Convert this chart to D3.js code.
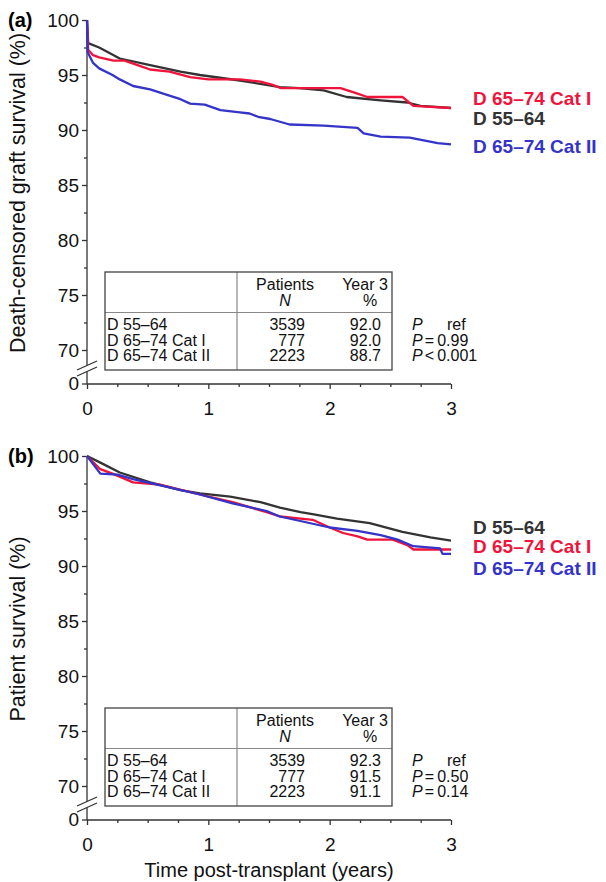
<!DOCTYPE html>
<html>
<head>
<meta charset="utf-8">
<script src="https://cdn.jsdelivr.net/npm/d3@7"></script>
<style>
  body { margin: 0; background: #fff; }
  svg { display: block; font-family: "Liberation Sans", Arial, Helvetica, sans-serif; }
</style>
</head>
<body>
<svg id="chart" width="606" height="882"></svg>
<script>
// groups, in legend/table order
const groups = ["D 55–64", "D 65–74 Cat I", "D 65–74 Cat II"];
const groupColors = ["#333333", "#f0143c", "#3434c8"];
const patientsN = ["3539", "777", "2223"];

// (a) death-censored graft survival, [years, %]
const graft55 = [[0,100],[0.01,97.9],[0.1,97.5],[0.27,96.5],[0.52,95.9],[0.77,95.3],[0.93,95.0],[1.26,94.5],[1.59,93.9],[1.75,93.8],[1.95,93.6],[2.14,93.0],[2.42,92.7],[2.64,92.5],[2.75,92.2],[3,92.0]];
const graftCat1 = [[0,100],[0.01,97.3],[0.05,96.8],[0.1,96.6],[0.22,96.3],[0.31,96.3],[0.44,95.8],[0.52,95.5],[0.68,95.3],[0.85,94.8],[1.0,94.6],[1.26,94.6],[1.43,94.4],[1.53,94.1],[1.6,93.8],[2.09,93.8],[2.23,93.3],[2.31,93.0],[2.6,93.0],[2.69,92.2],[3,92.0]];
const graftCat2 = [[0,100],[0.005,97.1],[0.05,96.1],[0.1,95.6],[0.21,95.0],[0.27,94.6],[0.38,94.0],[0.52,93.7],[0.66,93.2],[0.77,92.8],[0.85,92.4],[0.97,92.3],[1.1,91.8],[1.26,91.6],[1.34,91.5],[1.41,91.2],[1.51,91.0],[1.67,90.5],[1.95,90.4],[2.23,90.2],[2.28,89.7],[2.42,89.4],[2.66,89.3],[2.89,88.8],[3,88.7]];
const graftYear3 = ["92.0", "92.0", "88.7"];
const graftP = ["ref", "= 0.99", "< 0.001"];

// (b) patient survival, [years, %]
const pat55 = [[0,100],[0.11,99.4],[0.27,98.5],[0.52,97.6],[0.77,96.9],[0.93,96.6],[1.18,96.3],[1.43,95.8],[1.59,95.3],[1.76,94.9],[1.87,94.7],[2.06,94.3],[2.33,93.9],[2.6,93.1],[2.83,92.6],[3,92.3]];
const patCat1 = [[0,100],[0.11,98.8],[0.21,98.4],[0.38,97.6],[0.6,97.4],[0.93,96.5],[1.2,95.8],[1.48,94.9],[1.59,94.5],[1.86,94.2],[2.0,93.5],[2.11,93.0],[2.23,92.7],[2.31,92.4],[2.52,92.4],[2.64,91.9],[2.69,91.5],[3,91.5]];
const patCat2 = [[0,100],[0.11,98.4],[0.25,98.3],[0.38,97.9],[0.66,97.2],[0.93,96.5],[1.2,95.7],[1.48,95.0],[1.59,94.5],[2.0,93.5],[2.23,93.2],[2.42,92.8],[2.56,92.4],[2.69,91.8],[2.91,91.6],[2.93,91.1],[3,91.1]];
const patYear3 = ["92.3", "91.5", "91.1"];
const patP = ["ref", "= 0.50", "= 0.14"];

const yTicks = [70, 75, 80, 85, 90, 95, 100];
const yMinor = [72.5, 77.5, 82.5, 87.5, 92.5, 97.5];
const xTicks = [0, 1, 2, 3];
const xMinor = [0.25, 0.5, 0.75, 1.25, 1.5, 1.75, 2.25, 2.5, 2.75];

const svg = d3.select("#chart");
const axisColor = "#333";
const x = d3.scaleLinear().domain([0, 3]).range([87, 451]);
const y = d3.scaleLinear().domain([70, 100]).range([330, 0]);
const yZero = 364;

function drawPanel(top, opts) {
    const g = svg.append("g").attr("transform", `translate(0,${top})`);

    // y axis (broken between 70 and 0)
    const ya = g.append("g").attr("transform", `translate(${x(0)},0)`)
        .call(d3.axisLeft(y).tickValues(yTicks).tickSize(5).tickPadding(3));
    ya.append("g").call(d3.axisLeft(y).tickValues(yMinor).tickSize(3).tickFormat(""));
    ya.selectAll(".domain").remove();
    ya.append("line").attr("x1", -5).attr("x2", 0).attr("y1", yZero).attr("y2", yZero);
    ya.append("text").attr("x", -8).attr("y", yZero).attr("dy", "0.33em").text("0");
    ya.append("line").attr("y1", 0).attr("y2", 345.5);
    ya.append("line").attr("y1", 351.5).attr("y2", yZero);
    [0, 6].forEach(o => ya.append("line").attr("x1", -10).attr("y1", 350 + o).attr("x2", 10).attr("y2", 341 + o));

    // x axis
    const xa = g.append("g").attr("transform", `translate(0,${yZero})`)
        .call(d3.axisBottom(x).tickValues(xTicks).tickSize(5).tickPadding(13).tickFormat(d3.format("d")));
    xa.append("g").call(d3.axisBottom(x).tickValues(xMinor).tickSize(3).tickFormat(""));
    xa.selectAll(".domain").remove();
    xa.append("line").attr("x1", x(0)).attr("x2", x(3));

    [ya, xa].forEach(a => {
        a.attr("font-family", null).attr("font-size", 19);
        a.selectAll("line").attr("stroke", axisColor).attr("stroke-width", 1.3);
        a.selectAll("text").attr("fill", "#111");
    });

    // curves
    const line = d3.line().x(d => x(d[0])).y(d => y(d[1]));
    opts.series.forEach((s, i) => {
        g.append("path").datum(s).attr("d", line)
            .attr("fill", "none").attr("stroke", groupColors[i])
            .attr("stroke-width", 2.3).attr("stroke-linejoin", "round");
    });

    // end labels
    opts.labelY.forEach((ly, i) => {
        g.append("text").attr("x", 473).attr("y", ly)
            .attr("font-size", 19).attr("font-weight", "bold")
            .attr("fill", groupColors[i]).text(groups[i]);
    });

    // panel letter and y title
    g.append("text").attr("x", 8).attr("y", 7).attr("font-size", 20)
        .attr("font-weight", "bold").text(opts.letter);
    g.append("text").attr("transform", "translate(25,173) rotate(-90)")
        .attr("text-anchor", "middle").attr("font-size", 21.5).attr("fill", "#111")
        .text(opts.yTitle);

    // table
    const t = g.append("g").attr("font-size", 16).attr("fill", "#111");
    t.append("line").attr("x1", 237).attr("x2", 237).attr("y1", 252).attr("y2", 350)
        .attr("stroke", "#888").attr("stroke-width", 1.2);
    t.append("line").attr("x1", 105).attr("x2", 392).attr("y1", 292.5).attr("y2", 292.5)
        .attr("stroke", "#888").attr("stroke-width", 1.2);
    t.append("rect").attr("x", 105).attr("y", 252).attr("width", 287).attr("height", 98)
        .attr("fill", "none").attr("stroke", "#444").attr("stroke-width", 1.3);
    t.append("text").attr("x", 285).attr("y", 270).attr("text-anchor", "middle").text("Patients");
    t.append("text").attr("x", 285).attr("y", 286).attr("text-anchor", "middle").attr("font-style", "italic").text("N");
    t.append("text").attr("x", 365).attr("y", 270).attr("text-anchor", "middle").text("Year 3");
    t.append("text").attr("x", 370).attr("y", 286).attr("text-anchor", "middle").text("%");
    const rowY = [310, 325.5, 341];
    groups.forEach((name, i) => {
        t.append("text").attr("x", 107).attr("y", rowY[i]).text(name);
        t.append("text").attr("x", 305).attr("y", rowY[i]).attr("text-anchor", "end").text(patientsN[i]);
        t.append("text").attr("x", 381).attr("y", rowY[i]).attr("text-anchor", "end").text(opts.year3[i]);
        const p = t.append("text").attr("x", 412).attr("y", rowY[i]);
        p.append("tspan").attr("font-style", "italic").text("P");
        if (opts.pvals[i] === "ref") p.append("tspan").attr("x", 447).text("ref");
        else p.append("tspan").attr("dx", 2).text(opts.pvals[i].replace(" ", "\u2009"));
    });
    return g;
}

drawPanel(20, {
    letter: "(a)",
    yTitle: "Death-censored graft survival (%)",
    series: [graft55, graftCat1, graftCat2],
    labelY: [105, 85, 133],
    year3: graftYear3,
    pvals: graftP
});

const gb = drawPanel(456, {
    letter: "(b)",
    yTitle: "Patient survival (%)",
    series: [pat55, patCat1, patCat2],
    labelY: [78, 97, 119],
    year3: patYear3,
    pvals: patP
});

gb.append("text").attr("x", 269).attr("y", 421).attr("text-anchor", "middle")
    .attr("font-size", 20).attr("fill", "#111").text("Time post-transplant (years)");
</script>
</body>
</html>
